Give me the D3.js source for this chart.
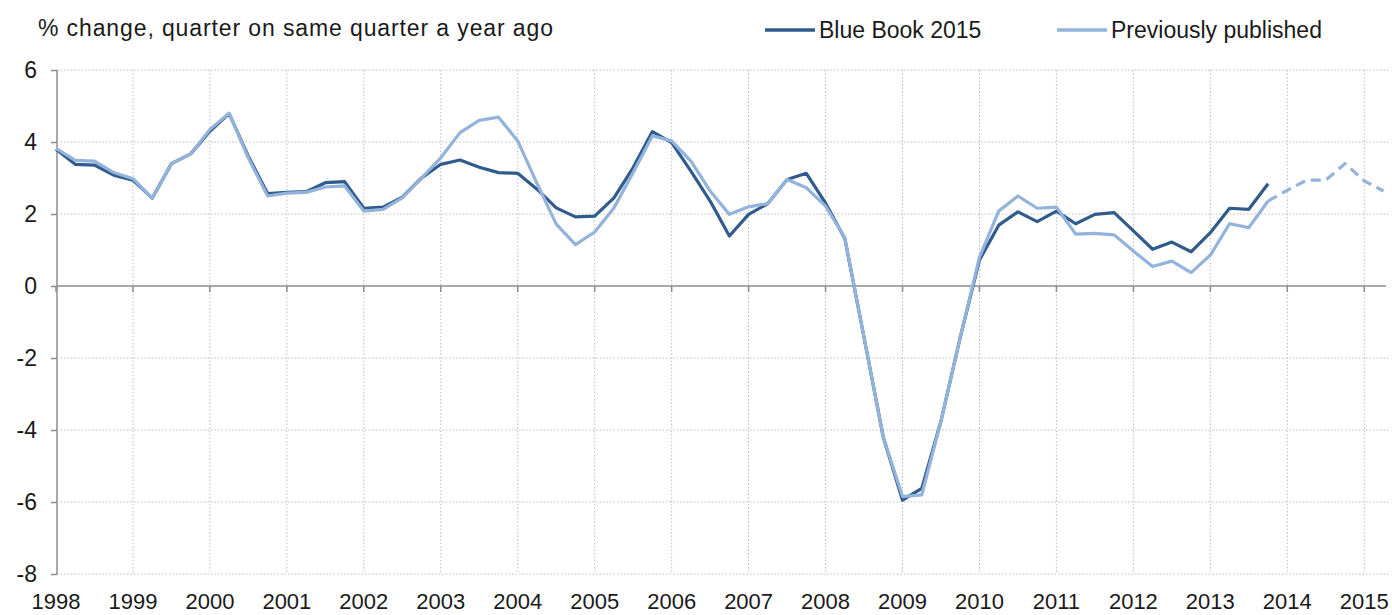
<!DOCTYPE html>
<html>
<meta charset="utf-8">
<head>
	<script src="https://d3js.org/d3.v7.min.js"></script>
	<style>
		body { margin: 0; background: #fff; }
		text { font-family: "Liberation Sans", Arial, sans-serif; fill: #1a1a1a; }
		.grid line { stroke: #bdbdbd; stroke-width: 1px; stroke-dasharray: 1.5,2; }
		.axis line, .axis path { stroke: #8c8c8c; stroke-width: 1.5px; fill: none; }
		.line { fill: none; stroke-width: 3.2px; stroke-linejoin: round; }
	</style>
</head>
<body>
<script>
	// quarters, 1998 Q1 .. 2015 Q2
	var years = d3.range(1998, 2016);
	var quarters = [];
	years.forEach(function(y) {
		[1, 2, 3, 4].forEach(function(q) { quarters.push(y + " Q" + q); });
	});
	quarters = quarters.slice(0, 70);

	// Blue Book 2015, 1998 Q1 .. 2013 Q4
	var blueBook = [3.8, 3.38, 3.36, 3.08, 2.94, 2.44, 3.4, 3.67, 4.3, 4.79,
		3.6, 2.57, 2.6, 2.62, 2.87, 2.9, 2.16, 2.19, 2.47, 3.0,
		3.38, 3.5, 3.3, 3.15, 3.13, 2.69, 2.17, 1.92, 1.94, 2.45,
		3.29, 4.29, 3.98, 3.19, 2.36, 1.39, 1.99, 2.29, 2.96, 3.13,
		2.3, 1.32, -1.43, -4.2, -5.95, -5.62, -3.75, -1.43, 0.72, 1.69,
		2.06, 1.79, 2.08, 1.73, 1.99, 2.04, 1.53, 1.02, 1.22, 0.95,
		1.48, 2.16, 2.13, 2.84];

	// Previously published, 1998 Q1 .. 2015 Q2 (dashed after 2013 Q4)
	var previous = [3.82, 3.49, 3.47, 3.15, 2.98, 2.44, 3.4, 3.67, 4.35, 4.8,
		3.55, 2.5, 2.58, 2.6, 2.75, 2.78, 2.08, 2.13, 2.45, 3.0,
		3.56, 4.26, 4.6, 4.69, 4.03, 2.85, 1.72, 1.15, 1.5, 2.17,
		3.15, 4.17, 4.03, 3.47, 2.64, 1.99, 2.2, 2.29, 2.96, 2.73,
		2.22, 1.34, -1.43, -4.2, -5.85, -5.8, -3.75, -1.43, 0.8, 2.08,
		2.5, 2.16, 2.19, 1.44, 1.46, 1.42, 0.97, 0.54, 0.69, 0.37,
		0.86, 1.73, 1.62, 2.36, 2.66, 2.94, 2.94, 3.4, 2.92, 2.64];
	var solidEnd = 63;

	var yTicks = [6, 4, 2, 0, -2, -4, -6, -8];
	var seriesNames = ["Blue Book 2015", "Previously published"];
	var colors = ["#2f5b8d", "#92b3db"];

	var width = 1392, height = 615;
	var plotLeft = 57, plotRight = 1390, plotTop = 70, plotBottom = 574;

	var x = d3.scalePoint().domain(quarters).range([56, 1383.5]);
	var y = d3.scaleLinear().domain([-8, 6]).range([plotBottom, plotTop]);

	var svg = d3.select("body").append("svg")
		.attr("width", width)
		.attr("height", height);

	// gridlines
	var grid = svg.append("g").attr("class", "grid");
	grid.selectAll(".h").data(yTicks.filter(function(d) { return d !== 0; }))
		.enter().append("line")
		.attr("x1", plotLeft).attr("x2", plotRight)
		.attr("y1", function(d) { return y(d); })
		.attr("y2", function(d) { return y(d); });
	grid.selectAll(".v").data(years.slice(1))
		.enter().append("line")
		.attr("x1", function(d) { return x(d + " Q1"); })
		.attr("x2", function(d) { return x(d + " Q1"); })
		.attr("y1", plotTop).attr("y2", plotBottom);

	// y axis (plain hyphen for negatives, as in the original)
	var yAxis = svg.append("g").attr("class", "axis")
		.attr("transform", "translate(" + plotLeft + ",0)")
		.call(d3.axisLeft(y).tickValues(yTicks).tickSize(6).tickPadding(14)
			.tickFormat(function(d) { return String(d); }));
	yAxis.select(".domain").attr("d", "M0," + plotTop + "V" + plotBottom);
	yAxis.selectAll("text").style("font-size", "23px").style("fill", "#1a1a1a");

	// x axis at zero, labels at bottom
	var xAxis = svg.append("g").attr("class", "axis")
		.attr("transform", "translate(0," + y(0) + ")");
	xAxis.append("line").attr("x1", plotLeft).attr("x2", 1386).attr("y1", 0).attr("y2", 0);
	xAxis.selectAll(".tick").data(years)
		.enter().append("line")
		.attr("x1", function(d) { return x(d + " Q1"); })
		.attr("x2", function(d) { return x(d + " Q1"); })
		.attr("y1", 0).attr("y2", 6);
	svg.append("g").selectAll("text").data(years)
		.enter().append("text")
		.attr("x", function(d) { return x(d + " Q1"); })
		.attr("y", 609)
		.attr("text-anchor", "middle")
		.style("font-size", "22px")
		.text(function(d) { return d; });

	// lines
	var line = d3.line()
		.x(function(d) { return x(d.q); })
		.y(function(d) { return y(d.v); });

	var bbData = blueBook.map(function(v, i) { return { q: quarters[i], v: v }; });
	var prevData = previous.map(function(v, i) { return { q: quarters[i], v: v }; });

	svg.append("path").attr("class", "line")
		.attr("stroke", colors[0])
		.attr("d", line(bbData));
	svg.append("path").attr("class", "line")
		.attr("stroke", colors[1])
		.attr("d", line(prevData.slice(0, solidEnd + 1)));
	svg.append("path").attr("class", "line")
		.attr("stroke", colors[1])
		.attr("stroke-dasharray", "10,6")
		.attr("d", line(prevData.slice(solidEnd)));

	// title
	svg.append("text")
		.attr("x", 38).attr("y", 36)
		.attr("textLength", 515)
		.attr("lengthAdjust", "spacing")
		.style("font-size", "23px")
		.text("% change, quarter on same quarter a year ago");

	// legend
	var legendX = [765, 1057];
	var legend = svg.append("g");
	seriesNames.forEach(function(name, i) {
		legend.append("line")
			.attr("x1", legendX[i]).attr("x2", legendX[i] + 50)
			.attr("y1", 30).attr("y2", 30)
			.attr("stroke", colors[i]).attr("stroke-width", 3.5);
		legend.append("text")
			.attr("x", legendX[i] + 54).attr("y", 38)
			.style("font-size", "23px")
			.text(name);
	});
</script>
</body>
</html>
